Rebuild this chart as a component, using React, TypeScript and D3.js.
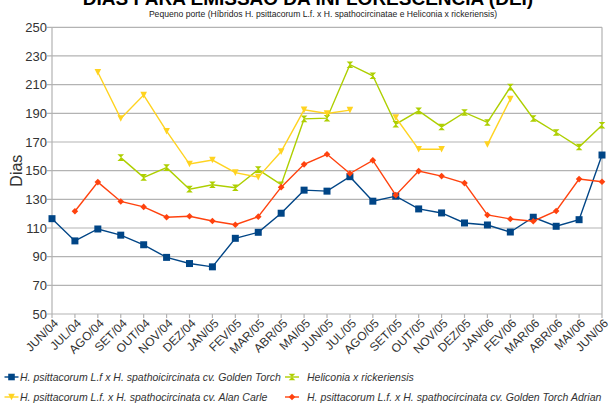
import React from "react";
import * as d3 from "d3";

const months = ["JUN/04","JUL/04","AGO/04","SET/04","OUT/04","NOV/04","DEZ/04","JAN/05","FEV/05","MAR/05","ABR/05","MAI/05","JUN/05","JUL/05","AGO/05","SET/05","OUT/05","NOV/05","DEZ/05","JAN/06","FEV/06","MAR/06","ABR/06","MAI/06","JUN/06"];

const goldenTorch: (number | null)[] = [116.5, 101, 109.3, 105, 98.3, 89.5, 85.2, 82.9, 102.8, 107, 120.3, 136.4, 135.7, 145.8, 128.7, 132.2, 123.3, 120.5, 113.5, 112.1, 107.2, 117.5, 111.2, 115.8, 160.9];
const rickeriensis: (number | null)[] = [null, null, null, 159.1, 145.3, 152.1, 137.1, 140.2, 138.1, 150.7, 140.2, 186.1, 186.6, 223.9, 216.2, 182.4, 191.7, 180.5, 190.6, 183.6, 208.3, 186.4, 176.6, 166.5, 181.7];
const alanCarle: (number | null)[] = [null, null, 218.6, 186.4, 202.7, 177.5, 154.6, 157.4, 148.6, 145.5, 163.3, 192.4, 189.9, 192.2, null, 187.1, 164.9, 164.9, null, 168.2, 199.9, null, null, null, null];
const adrian: (number | null)[] = [null, 121.7, 142, 128.5, 124.7, 117.5, 118.2, 114.9, 112.3, 117.9, 138.5, 154.4, 161.4, 148, 157.2, 132.9, 149.7, 146.2, 141.3, 119.1, 116.3, 114.7, 121.9, 144.1, 142.3];

const yTicks = [50, 70, 90, 110, 130, 150, 170, 190, 210, 230, 250];

const title = "DIAS PARA EMISSÃO DA INFLORESCÊNCIA (DEI)";
const subtitle = "Pequeno porte (Híbridos H. psittacorum L.f. x H. spathocircinatae e Heliconia x rickeriensis)";
const yTitle = "Dias";

type Shape = "square" | "diamond" | "down" | "sandglass";
const series: { name: string; values: (number | null)[]; color: string; shape: Shape }[] = [
  { name: "H. psittacorum L.f x H. spathoicircinata cv. Golden Torch", values: goldenTorch, color: "#004586", shape: "square" },
  { name: "Heliconia x rickeriensis", values: rickeriensis, color: "#aecf00", shape: "sandglass" },
  { name: "H. psittacorum L.f. x H. spathocircinata cv. Alan Carle", values: alanCarle, color: "#ffd320", shape: "down" },
  { name: "H. psittacorum L.f. x H. spathocircinata cv. Golden Torch Adrian", values: adrian, color: "#ff420e", shape: "diamond" },
];

function markerPath(shape: Shape, cx: number, cy: number, r: number): string {
  switch (shape) {
    case "square":
      return `M${cx - r},${cy - r}H${cx + r}V${cy + r}H${cx - r}Z`;
    case "diamond":
      return `M${cx},${cy - r}L${cx + r},${cy}L${cx},${cy + r}L${cx - r},${cy}Z`;
    case "down":
      return `M${cx - r},${cy - r}H${cx + r}L${cx},${cy + r}Z`;
    case "sandglass":
      return `M${cx - r},${cy - r}H${cx + r}L${cx - r},${cy + r}H${cx + r}Z`;
  }
}

export default function App() {
  const W = 611, H = 404;
  const left = 52, right = 602, top = 27.3, bottom = 314;
  const x = d3.scalePoint<string>().domain(months).range([left, right]);
  const y = d3.scaleLinear().domain([50, 250]).range([bottom, top]);
  const font = "'Liberation Sans', Arial, sans-serif";

  const legendPos = [
    { mx: 11.5, tx: 20, y: 377 },
    { mx: 292, tx: 307, y: 377 },
    { mx: 11.5, tx: 20, y: 397 },
    { mx: 292, tx: 307, y: 397 },
  ];

  return (
    <svg width={W} height={H} style={{ position: "absolute", left: 0, top: 0, background: "#fff" }} fontFamily={font}>
      <rect x={0} y={0} width={W} height={H} fill="#fff" />
      <text x={308} y={5} textAnchor="middle" fontSize={19} fontWeight="bold" fill="#000">{title}</text>
      <text x={323} y={17} textAnchor="middle" fontSize={8.6} fill="#222">{subtitle}</text>

      {yTicks.map((t) => (
        <g key={t}>
          <line x1={left - 5} x2={right} y1={y(t)} y2={y(t)} stroke="#b3b3b3" strokeWidth={1.2} />
          <text x={47} y={y(t)} dy="0.35em" textAnchor="end" fontSize={13} fill="#333">{t}</text>
        </g>
      ))}
      <line x1={left} x2={left} y1={top} y2={bottom} stroke="#b3b3b3" strokeWidth={1.2} />
      <line x1={right} x2={right} y1={top} y2={bottom} stroke="#b3b3b3" strokeWidth={1.2} />
      {months.map((m) => (
        <g key={m}>
          <line x1={x(m)!} x2={x(m)!} y1={bottom} y2={bottom + 4} stroke="#b3b3b3" strokeWidth={1.2} />
          <text transform={`translate(${x(m)! + 1},${bottom + 4}) rotate(-45)`} textAnchor="end" dy="0.7em" fontSize={12} fill="#333">{m}</text>
        </g>
      ))}
      <text transform={`translate(22,${(top + bottom) / 2}) rotate(-90)`} textAnchor="middle" fontSize={16} fill="#333">{yTitle}</text>

      {series.map((s) => {
        const line = d3.line<number | null>()
          .defined((d) => d != null)
          .x((_, i) => x(months[i])!)
          .y((d) => y(d as number));
        return (
          <g key={s.name}>
            <path d={line(s.values) || ""} fill="none" stroke={s.color} strokeWidth={1.4} />
            {s.values.map((v, i) => v == null ? null : (
              <path key={i} d={markerPath(s.shape, x(months[i])!, y(v), s.shape === "square" ? 3.5 : 3.3)} fill={s.color} />
            ))}
          </g>
        );
      })}

      {series.map((s, i) => {
        const p = legendPos[i];
        return (
          <g key={s.name}>
            <line x1={p.mx - 7} x2={p.mx + 7} y1={p.y} y2={p.y} stroke={s.color} strokeWidth={1.4} />
            <path d={markerPath(s.shape, p.mx, p.y, 3.3)} fill={s.color} />
            <text x={p.tx} y={p.y} dy="0.35em" fontSize={10.5} fontStyle="italic" fill="#333">{s.name}</text>
          </g>
        );
      })}
    </svg>
  );
}
